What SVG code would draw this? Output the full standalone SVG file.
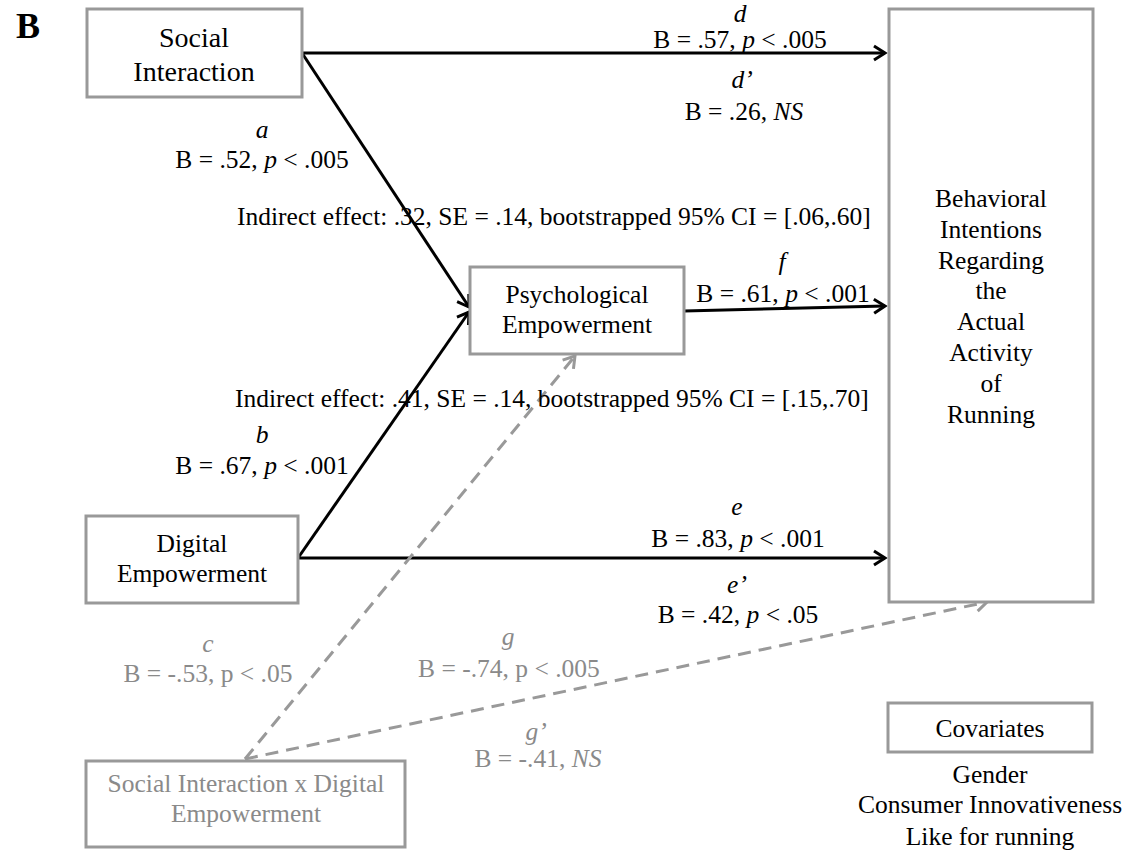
<svg xmlns="http://www.w3.org/2000/svg" width="1136" height="852" viewBox="0 0 1136 852">
<style>
text{font-family:"Liberation Serif","Times New Roman",serif;font-size:25.5px;fill:#000}
.c{text-anchor:middle}
.i{font-style:italic}
.g{fill:#8a8a8a}
.box{fill:#fff;stroke:#999;stroke-width:3}
.ln{fill:none;stroke:#000;stroke-width:3}
.dl{fill:none;stroke:#999;stroke-width:3;stroke-dasharray:13 8}
</style>
<defs>
<marker id="ab" markerUnits="userSpaceOnUse" markerWidth="20" markerHeight="20" viewBox="0 0 20 20" refX="15" refY="10" orient="auto">
<path d="M4,3 L15,10 L4,17" fill="none" stroke="#000" stroke-width="3"/>
</marker>
<marker id="ag" markerUnits="userSpaceOnUse" markerWidth="20" markerHeight="20" viewBox="0 0 20 20" refX="15" refY="10" orient="auto">
<path d="M4,3 L15,10 L4,17" fill="none" stroke="#999" stroke-width="3"/>
</marker>
</defs>
<rect width="1136" height="852" fill="#fff"/>
<text x="16" y="38" style="font-weight:bold;font-size:36px">B</text>

<g id="connectors">
<path class="ln" d="M302,53 L885,53" marker-end="url(#ab)"/>
<path class="ln" d="M302,53 L469,307" marker-end="url(#ab)"/>
<path class="ln" d="M298,558 L469,312" marker-end="url(#ab)"/>
<path class="ln" d="M298,558 L885,558" marker-end="url(#ab)"/>
<path class="ln" d="M684,311 L885,306" marker-end="url(#ab)"/>
<path class="dl" d="M245,759 L575,356" marker-end="url(#ag)"/>
<path class="dl" d="M245,759 L987,602" marker-end="url(#ag)"/>
</g>

<g id="node-social">
<rect class="box" x="87" y="9" width="215" height="88"/>
<text class="c" x="194" y="47" style="font-size:28px">Social</text>
<text class="c" x="194" y="81" style="font-size:28px">Interaction</text>
</g>
<g id="node-digital">
<rect class="box" x="86" y="516" width="212" height="87"/>
<text class="c" x="192" y="552">Digital</text>
<text class="c" x="192" y="582">Empowerment</text>
</g>
<g id="node-psych">
<rect class="box" x="470" y="267" width="214" height="87"/>
<text class="c" x="577" y="303">Psychological</text>
<text class="c" x="577" y="333">Empowerment</text>
</g>
<g id="node-behav">
<rect class="box" x="889" y="9" width="204" height="593"/>
<text class="c" x="991" y="207">Behavioral</text>
<text class="c" x="991" y="238">Intentions</text>
<text class="c" x="991" y="269">Regarding</text>
<text class="c" x="991" y="299">the</text>
<text class="c" x="991" y="330">Actual</text>
<text class="c" x="991" y="361">Activity</text>
<text class="c" x="991" y="392">of</text>
<text class="c" x="991" y="423">Running</text>
</g>
<g id="node-interaction">
<rect class="box" x="86" y="761" width="319" height="86"/>
<text class="c g" x="246" y="792">Social Interaction x Digital</text>
<text class="c g" x="246" y="822">Empowerment</text>
</g>
<g id="node-covariates">
<rect class="box" x="888" y="703" width="204" height="49"/>
<text class="c" x="990" y="737">Covariates</text>
<text class="c" x="990" y="783">Gender</text>
<text class="c" x="990" y="813">Consumer Innovativeness</text>
<text class="c" x="990" y="845">Like for running</text>
</g>

<g id="labels">
<text class="c i" x="740" y="22">d</text>
<text class="c" x="740" y="48">B = .57, <tspan class="i">p</tspan> &lt; .005</text>
<text class="c i" x="742" y="88">d’</text>
<text class="c" x="744" y="120">B = .26, <tspan class="i">NS</tspan></text>

<text class="c i" x="262" y="138">a</text>
<text class="c" x="262" y="168">B = .52, <tspan class="i">p</tspan> &lt; .005</text>

<text x="237" y="225">Indirect effect: .32, SE = .14, bootstrapped 95% CI = [.06,.60]</text>

<text class="c i" x="782" y="270">f</text>
<text class="c" x="783" y="302">B = .61, <tspan class="i">p</tspan> &lt; .001</text>

<text x="235" y="407">Indirect effect: .41, SE = .14, bootstrapped 95% CI = [.15,.70]</text>

<text class="c i" x="262" y="443">b</text>
<text class="c" x="262" y="474">B = .67, <tspan class="i">p</tspan> &lt; .001</text>

<text class="c i" x="737" y="515">e</text>
<text class="c" x="738" y="547">B = .83, <tspan class="i">p</tspan> &lt; .001</text>
<text class="c i" x="737" y="593">e’</text>
<text class="c" x="738" y="623">B = .42, <tspan class="i">p</tspan> &lt; .05</text>

<text class="c i g" x="208" y="652">c</text>
<text class="c g" x="208" y="682">B = -.53, p &lt; .05</text>

<text class="c i g" x="508" y="645">g</text>
<text class="c g" x="509" y="677">B = -.74, p &lt; .005</text>
<text class="c i g" x="536" y="740">g’</text>
<text class="c g" x="538" y="767">B = -.41, <tspan class="i">NS</tspan></text>
</g>
</svg>
